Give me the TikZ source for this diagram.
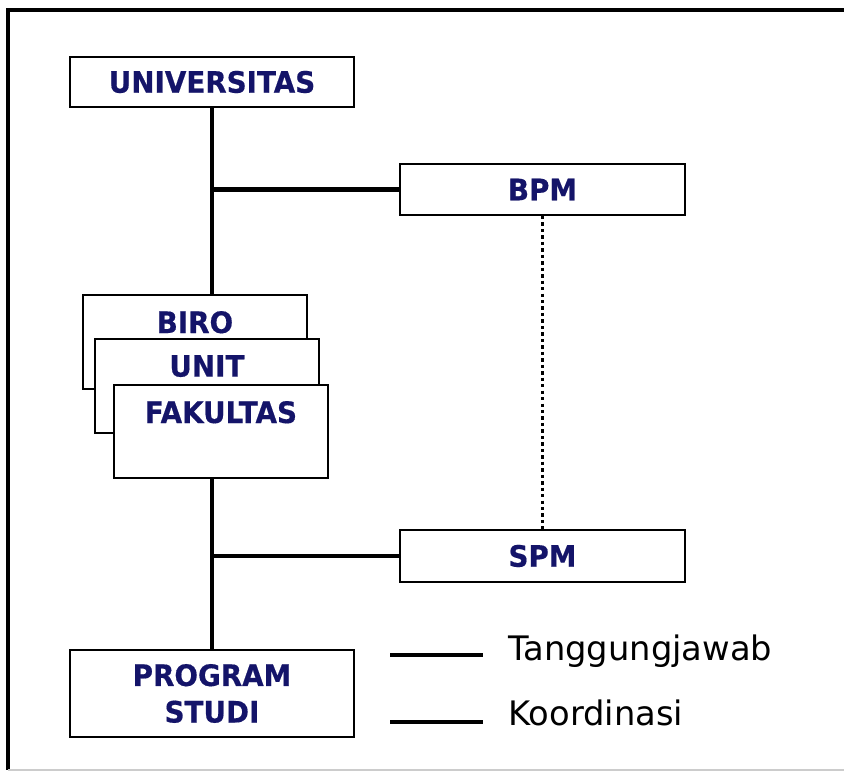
\documentclass[tikz,border=0pt]{standalone}
\usepackage{fontspec}
\setmainfont{DejaVu Sans}
\newfontfamily\boxfont{DejaVu Sans Bold}[FakeBold=0.5, FakeStretch=0.94]
\usetikzlibrary{positioning}
\definecolor{navytext}{RGB}{20,20,105}

\begin{document}
\begin{tikzpicture}[x=0.025cm, y=-0.025cm,
  orgbox/.style={draw=black, line width=1.3pt, fill=white, rectangle, inner sep=0pt, font=\boxfont\fontsize{21}{25}\selectfont, text=navytext, align=center},
  stackbox/.style={orgbox, anchor=north west, minimum width=5.6cm, minimum height=2.35cm},
  stacklabel/.style={anchor=north, inner sep=0pt, font=\boxfont\fontsize{21}{25}\selectfont, text=navytext, yshift=-0.42cm},
  tanggung/.style={line width=3pt},
  koord/.style={line width=2.8pt, dash pattern=on 2.4pt off 2.2pt},
  legendtext/.style={anchor=west, inner sep=0pt, font=\fontsize{24}{28}\selectfont}]
        \useasboundingbox (0,0) rectangle (844,774);
        \draw[line width=2.2pt] (844,10) -- (8,10) -- (8,770);
        \draw[line width=1pt, black!20] (8,770) -- (844,770);

        \node[orgbox, minimum width=7.1cm, minimum height=1.25cm]    (univ) at (212,82)    {UNIVERSITAS};
        \node[orgbox, minimum width=7.125cm, minimum height=1.275cm] (bpm)  at (542.5,189.5) {BPM};
        \node[stackbox, label={[stacklabel]north:BIRO}]  (biro) at (82,294)  {};
        \node[stackbox, label={[stacklabel]north:UNIT}]  (unit) at (94,338)  {};
        \node[stackbox, minimum width=5.35cm, minimum height=2.325cm,
              label={[stacklabel]north:FAKULTAS}]        (fak)  at (113,384) {};
        \node[orgbox, minimum width=7.125cm, minimum height=1.3cm]   (spm)  at (542.5,556) {SPM};
        \node[orgbox, minimum width=7.1cm, minimum height=2.175cm]   (ps)   at (212,693.5) {PROGRAM\\[1pt]STUDI};

        \draw[tanggung] (univ.south) -- (univ.south |- biro.north);
        \draw[tanggung] (bpm.west -| univ.south) -- (bpm.west);
        \draw[tanggung] (ps.north |- fak.south) -- (ps.north);
        \draw[tanggung] (spm.west -| ps.north) -- (spm.west);
        \draw[koord] (bpm.south) -- (spm.north);

        % keterangan
        \coordinate (tj1) at (390,655);
        \coordinate (tj2) at (483,655);
        \coordinate (ko1) at (390,722);
        \coordinate (ko2) at (483,722);
        \draw[tanggung] (tj1) -- (tj2);
        \draw[tanggung] (ko1) -- (ko2);
        \node[legendtext] (tjtext) at (508,651) {Tanggungjawab};
        \node[legendtext] (kotext) at (508,713) {Koordinasi};
\end{tikzpicture}
\end{document}
